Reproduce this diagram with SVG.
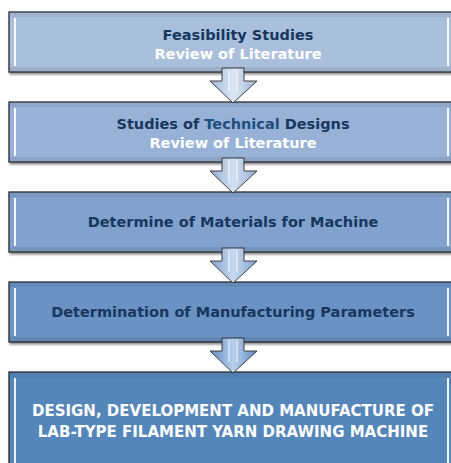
<svg xmlns="http://www.w3.org/2000/svg" width="451" height="463" viewBox="0 0 451 463">
<defs>
<linearGradient id="ag1" x1="0" y1="0" x2="1" y2="0"><stop offset="0" stop-color="#9FB8DA"/><stop offset="0.5" stop-color="#DCE6F3"/><stop offset="1" stop-color="#9FB8DA"/></linearGradient>
<linearGradient id="ag2" x1="0" y1="0" x2="1" y2="0"><stop offset="0" stop-color="#93AFD6"/><stop offset="0.5" stop-color="#D3E0F1"/><stop offset="1" stop-color="#93AFD6"/></linearGradient>
<linearGradient id="ag3" x1="0" y1="0" x2="1" y2="0"><stop offset="0" stop-color="#7FA2CF"/><stop offset="0.5" stop-color="#C9D9EE"/><stop offset="1" stop-color="#7FA2CF"/></linearGradient>
<linearGradient id="ag4" x1="0" y1="0" x2="1" y2="0"><stop offset="0" stop-color="#5F8CC4"/><stop offset="0.5" stop-color="#B9CFEA"/><stop offset="1" stop-color="#5F8CC4"/></linearGradient>
<filter id="sh" x="-5%" y="-10%" width="110%" height="130%"><feDropShadow dx="1" dy="2" stdDeviation="1" flood-color="#000" flood-opacity="0.45"/></filter>
</defs>
<style>
.box{stroke:#1E1E1E;stroke-width:1.2;filter:url(#sh)}
.hl{stroke:#FFFFFF;stroke-width:2;fill:none;opacity:0.9}
.tb{fill:#000;opacity:0.06}
.bb{fill:#000;opacity:0.08}
.t{font-family:"DejaVu Sans",Verdana,sans-serif;font-weight:bold;font-size:14.5px;text-anchor:middle}
.c{font-size:15px}
.dk{fill:#17375E}
.wh{fill:#FFFFFF}
.arr{stroke:#2E2E2E;stroke-width:0.9;stroke-linejoin:miter}
.ain{stroke:#FFFFFF;stroke-width:1;fill:none;opacity:0.85}
</style>
<g id="node1">
<rect class="box" x="9" y="12" width="446" height="60" fill="#AABFDC"/>
<rect class="tb" x="10" y="13" width="444" height="4"/>
<rect class="bb" x="10" y="67" width="444" height="4"/>
<line class="hl" x1="15" y1="18" x2="15" y2="66"/>
<line class="hl" x1="448" y1="18" x2="448" y2="66"/>
<text class="t dk" x="238" y="40">Feasibility Studies</text>
<text class="t wh" x="238" y="59">Review of Literature</text>
</g>
<g id="node2">
<rect class="box" x="9" y="102" width="446" height="60" fill="#98B1D6"/>
<rect class="tb" x="10" y="103" width="444" height="4"/>
<rect class="bb" x="10" y="157" width="444" height="4"/>
<line class="hl" x1="15" y1="108" x2="15" y2="156"/>
<line class="hl" x1="448" y1="108" x2="448" y2="156"/>
<text class="t dk" x="233" y="129">Studies of <tspan fill="#1F4F7E">Technical</tspan> Designs</text>
<text class="t wh" x="233" y="148">Review of Literature</text>
</g>
<g id="node3">
<rect class="box" x="9" y="192" width="446" height="60" fill="#82A2CD"/>
<rect class="tb" x="10" y="193" width="444" height="4"/>
<rect class="bb" x="10" y="247" width="444" height="4"/>
<line class="hl" x1="15" y1="198" x2="15" y2="246"/>
<line class="hl" x1="448" y1="198" x2="448" y2="246"/>
<text class="t dk" x="233" y="227">Determine of Materials for Machine</text>
</g>
<g id="node4">
<rect class="box" x="9" y="282" width="446" height="60" fill="#6B92C4"/>
<rect class="tb" x="10" y="283" width="444" height="4"/>
<rect class="bb" x="10" y="337" width="444" height="4"/>
<line class="hl" x1="15" y1="288" x2="15" y2="336"/>
<line class="hl" x1="448" y1="288" x2="448" y2="336"/>
<text class="t dk" x="233" y="317">Determination of Manufacturing Parameters</text>
</g>
<g id="node5">
<rect class="box" x="9" y="372" width="446" height="100" fill="#5586BA"/>
<rect class="tb" x="10" y="373" width="444" height="4"/>
<line class="hl" x1="15" y1="378" x2="15" y2="463"/>
<line class="hl" x1="448" y1="378" x2="448" y2="463"/>
<text class="t c wh" x="233" y="416">DESIGN, DEVELOPMENT AND MANUFACTURE OF</text>
<text class="t c wh" x="233" y="437">LAB-TYPE FILAMENT YARN DRAWING MACHINE</text>
</g>
<g id="connectors">
<g id="arrow1">
<polygon class="arr" fill="url(#ag1)" points="222,68 244,68 244,81 257,81 233,103 210,81 222,81"/>
<line class="ain" x1="229" y1="70" x2="229" y2="92"/><line class="ain" x1="237" y1="70" x2="237" y2="92"/>
</g>
<g id="arrow2">
<polygon class="arr" fill="url(#ag2)" points="222,158 244,158 244,171 257,171 233,193 210,171 222,171"/>
<line class="ain" x1="229" y1="160" x2="229" y2="182"/><line class="ain" x1="237" y1="160" x2="237" y2="182"/>
</g>
<g id="arrow3">
<polygon class="arr" fill="url(#ag3)" points="222,248 244,248 244,261 257,261 233,283 210,261 222,261"/>
<line class="ain" x1="229" y1="250" x2="229" y2="272"/><line class="ain" x1="237" y1="250" x2="237" y2="272"/>
</g>
<g id="arrow4">
<polygon class="arr" fill="url(#ag4)" points="222,338 244,338 244,351 257,351 233,373 210,351 222,351"/>
<line class="ain" x1="229" y1="340" x2="229" y2="362"/><line class="ain" x1="237" y1="340" x2="237" y2="362"/>
</g>
</g>
</svg>
